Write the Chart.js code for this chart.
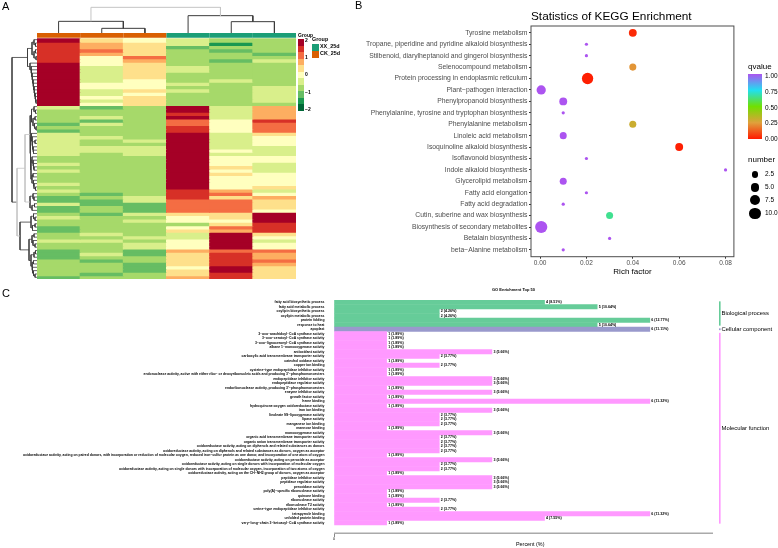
<!DOCTYPE html>
<html>
<head>
<meta charset="utf-8">
<title>Figure</title>
<script src="https://cdn.jsdelivr.net/npm/chart.js@4/dist/chart.umd.min.js"></script>
<style>
  html, body { margin: 0; padding: 0; background: #fff; }
  body { position: relative; width: 778px; height: 548px; overflow: hidden; font-family: "Liberation Sans", Arial, sans-serif; color: #000; }
  canvas, .note, .box { position: absolute; }
  .note { white-space: nowrap; line-height: 1; will-change: transform; }
</style>
</head>
<body>
<script>
// panel A: heatmap z-scores, one array per sample, rows top to bottom
const ck1 = [2,1.6,1.6,1.6,1.6,1.6,1.6,2,2,2,2,2,2,2,2,2,2,2,2,2,
  -0.4,-0.8,-0.8,-0.8,-0.8,-1.2,-0.8,-1.2,-0.4,-0.4,-0.4,-0.4,-0.4,-0.4,-0.4,-0.8,-0.8,-0.4,-0.8,-0.4,
  -0.8,-0.8,-0.8,-0.4,-0.8,-0.4,-0.8,-1.2,-1.2,-0.4,-1.2,-1.2,-0.8,-0.4,-0.8,-0.8,-1.2,-1.2,-0.8,-0.8,
  -0.4,-0.8,-0.8,-1.2,-1.2,-1.2,-0.8,-0.8,-0.8,-0.8,-0.8,-1.2];
const ck2 = [0.4,0.8,0.8,1.2,0.8,0,0,0,-0.4,-0.4,-0.4,-0.4,-0.4,0,0,-0.4,-0.4,0,-0.4,0,
  -1.2,-0.8,-0.8,-0.4,-1.2,-0.4,-0.8,-0.8,-0.8,-0.4,-0.8,-0.8,-0.4,-0.4,-0.8,-0.8,-0.8,-0.8,-0.8,-0.8,
  -0.8,-0.8,-0.8,-0.8,-0.8,-0.8,-1.2,-0.8,-1.2,-1.2,-0.8,-0.8,-1.2,-0.8,-0.8,-0.8,-0.8,-0.8,-0.4,-0.8,
  -0.4,-0.8,-0.8,-0.8,-0.4,-0.8,-1.2,-0.8,-0.8,-0.8,-1.2,-0.8];
const ck3 = [0,0.4,0.4,0.4,0.4,1.2,0.8,0.4,0.4,0.4,0.4,0.4,0,0,0,0.4,0,0.4,0.4,0.4,
  -0.8,-0.8,-0.8,-0.8,-0.8,-0.8,-0.8,-0.8,-0.8,-0.8,-0.4,-0.8,-0.4,-0.4,-0.4,-0.8,-0.8,-0.8,-0.8,-0.8,
  -0.8,-0.8,-0.8,-0.8,-0.8,-0.8,-0.8,-0.4,-0.4,-1.2,-1.2,-1.2,-0.4,-0.8,-0.4,-0.8,-0.8,-0.8,-0.8,-0.4,
  -0.8,-0.4,-0.4,-1.2,-1.2,-0.8,-0.8,-1.2,-1.2,-1.2,-0.8,-0.8];
const xx1 = [-0.4,-0.4,-1.2,-0.8,-0.8,-0.8,-0.8,-0.8,-0.4,-0.4,-0.8,-0.8,-0.8,-0.4,-0.8,-0.4,-0.8,-0.8,-0.8,-0.8,
  2,2,1.6,2,1.2,1.2,1.6,1.6,2,2,2,2,2,2,2,2,2,2,2,2,
  2,2,2,2,2,1.6,1.6,1.6,1.2,1.2,1.2,1.2,0.4,0,0,-0.8,0,0.4,-0.4,-0.4,
  0,0,0,0.8,0.4,0.4,0.4,0.4,0,0.4,0.4,0.8];
const xx2 = [-0.8,-1.6,-0.8,-1.2,-0.8,-0.8,-1.2,-0.8,-0.8,-0.8,-0.8,-0.8,-0.4,-0.8,-0.8,-0.8,-0.8,-0.8,-0.8,-0.8,
  -0.4,-0.4,-0.4,-0.4,0,0,0,0,-0.4,-0.4,-0.4,-0.4,-0.4,0,-0.4,0,0,0,0.4,0,
  0.4,0,0,0,0,0.8,1.2,0.4,1.2,1.2,1.2,1.2,0.4,0.4,0,0.4,1.2,0.8,2,2,
  2,2,2,1.2,1.6,1.6,1.6,1.6,2,2,1.6,1.6];
const xx3 = [-0.8,-0.8,-0.8,-0.8,-1.2,-0.8,-0.4,-0.8,-0.8,-0.8,-0.8,-0.8,-0.8,-0.8,-0.4,-0.4,-0.4,-0.4,-0.4,-0.8,
  0.8,0.8,0.8,0.8,1.6,1.2,1.2,1.2,0.4,0,0,0,-0.4,-0.4,-0.4,0,0,-0.4,-0.4,-0.4,
  0,0,0,0,0.4,-0.4,0,0.8,0.4,0.4,0.4,0,2,2,2,1.6,1.6,1.6,0.4,0,
  -0.4,0,0,1.2,0.8,0.8,1.2,0.8,0.4,0.4,0.4,0.4];
const heatColumns = [ck1, ck2, ck3, xx1, xx2, xx3];
const columnGroups = ['CK_25d', 'CK_25d', 'CK_25d', 'XX_25d', 'XX_25d', 'XX_25d'];
const heatPalette = ['#A50026','#D73027','#F46D43','#FDAE61','#FEE08B','#FFFFBF','#D9EF8B','#A6D96A','#66BD63','#1A9850','#006837'];
const groupColors = {XX_25d: '#1B9E77', CK_25d: '#D95F02'};

// dendrograms: [height, left, right], a bare number is a leaf
const columnTree = [77, [35, 0, [14, 1, 2]], [52, 3, [34, 4, 5]]];
const topRows = [9.5, [5, [3, 0, [1.5, 1, 2]], [3, [1.5, 3, 4], [1, 5, 6]]],
  [7, 7, [6, 8, [5.5, 9, [5, 10, [4.5, 11, [4, 12, [3.5, 13, [3, 14, [2.5, 15, [2, 16, [1.5, 17, [1, 18, 19]]]]]]]]]]]]];
const midRows = [12,
  [7, [5.5, [3, 20, [1.5, 21, 22]], [4, [2, 23, 24], [2.5, 25, [1, 26, 27]]]],
    [6.5, [5.5, 28, [5, 29, [4.5, [2, 30, 31], [4, 32, [3.5, 33, 34]]]]],
      [6, [5, 35, [4, 36, [3.5, 37, [3, 38, 39]]]], [5, [4, 40, 41], [3.5, 42, [3, 43, [1.5, 44, 45]]]]]]],
  [7, [4, 46, [3, 47, 48]], [5, [2.5, 49, 50], 51]]];
const lowRows = [17,
  [6, [3.5, 52, [2, 53, 54]], [4.5, [2, 55, 56], 57]],
  [8, [5, [3, 58, 59], [4, 60, [2, 61, 62]]], [6, [3, [1.5, 63, 64], 65], [5, [3.5, 66, 67], [4.5, 68, [3.5, 69, [2, 70, 71]]]]]]];
const rowTree = [25, topRows, [20, midRows, lowRows]];

// panel B: KEGG enrichment
const pathways = ['Tyrosine metabolism', 'Tropane, piperidine and pyridine alkaloid biosynthesis',
  'Stilbenoid, diarylheptanoid and gingerol biosynthesis', 'Selenocompound metabolism',
  'Protein processing in endoplasmic reticulum', 'Plant\u2212pathogen interaction', 'Phenylpropanoid biosynthesis',
  'Phenylalanine, tyrosine and tryptophan biosynthesis', 'Phenylalanine metabolism', 'Linoleic acid metabolism',
  'Isoquinoline alkaloid biosynthesis', 'Isoflavonoid biosynthesis', 'Indole alkaloid biosynthesis',
  'Glycerolipid metabolism', 'Fatty acid elongation', 'Fatty acid degradation', 'Cutin, suberine and wax biosynthesis',
  'Biosynthesis of secondary metabolites', 'Betalain biosynthesis', 'beta\u2212Alanine metabolism'];
const richFactor = [0.04, 0.02, 0.02, 0.04, 0.0205, 0.0005, 0.01, 0.01, 0.04, 0.01, 0.06, 0.02, 0.08, 0.01, 0.02, 0.01, 0.03, 0.0005, 0.03, 0.01];
const geneNumber = [4, 1, 1, 3, 10, 6, 4, 1, 3, 3, 4, 1, 1, 3, 1, 1, 3, 12, 1, 1];
const qValue = [0.03, 1, 1, 0.23, 0.01, 1, 1, 1, 0.3, 1, 0.01, 1, 1, 1, 1, 1, 0.65, 1, 1, 1];
const numberBreaks = [2.5, 5, 7.5, 10];
const qBreaks = ['1.00', '0.75', '0.50', '0.25', '0.00'];

// panel C: GO enrichment top 50
const goTerms = ['fatty acid biosynthetic process', 'fatty acid metabolic process', 'oxylipin biosynthetic process',
  'oxylipin metabolic process', 'protein folding', 'response to heat', 'apoplast',
  '3\u2212oxo\u2212arachidoyl\u2212CoA synthase activity', '3\u2212oxo\u2212cerotoyl\u2212CoA synthase activity',
  '3\u2212oxo\u2212lignoceronyl\u2212CoA synthase activity', 'alkane 1\u2212monooxygenase activity', 'antioxidant activity',
  'carboxylic acid transmembrane transporter activity', 'catechol oxidase activity', 'copper ion binding',
  'cysteine\u2212type endopeptidase inhibitor activity',
  "endonuclease activity, active with either ribo\u2212 or deoxyribonucleic acids and producing 3'\u2212phosphomonoesters",
  'endopeptidase inhibitor activity', 'endopeptidase regulator activity',
  "endoribonuclease activity, producing 3'\u2212phosphomonoesters", 'enzyme inhibitor activity', 'growth factor activity',
  'heme binding', 'hydroquinone:oxygen oxidoreductase activity', 'iron ion binding', 'linoleate 9S\u2212lipoxygenase activity',
  'lipase activity', 'manganese ion binding', 'mannose binding', 'monooxygenase activity',
  'organic acid transmembrane transporter activity', 'organic anion transmembrane transporter activity',
  'oxidoreductase activity, acting on diphenols and related substances as donors',
  'oxidoreductase activity, acting on diphenols and related substances as donors, oxygen as acceptor',
  'oxidoreductase activity, acting on paired donors, with incorporation or reduction of molecular oxygen, reduced iron\u2212sulfur protein as one donor, and incorporation of one atom of oxygen',
  'oxidoreductase activity, acting on peroxide as acceptor',
  'oxidoreductase activity, acting on single donors with incorporation of molecular oxygen',
  'oxidoreductase activity, acting on single donors with incorporation of molecular oxygen, incorporation of two atoms of oxygen',
  'oxidoreductase activity, acting on the CH\u2212NH2 group of donors, oxygen as acceptor', 'peptidase inhibitor activity',
  'peptidase regulator activity', 'peroxidase activity', 'poly(A)\u2212specific ribonuclease activity', 'quinone binding',
  'ribonuclease activity', 'ribonuclease T2 activity', 'serine\u2212type endopeptidase inhibitor activity',
  'tetrapyrrole binding', 'unfolded protein binding', 'very\u2212long\u2212chain 3\u2212ketoacyl\u2212CoA synthase activity'];
const goCounts = [4, 5, 2, 2, 6, 5, 6, 1, 1, 1, 1, 3, 2, 1, 2, 1, 1, 3, 3, 1, 3, 1, 6, 1, 3, 2, 2, 2, 1, 3, 2, 2, 2, 2, 1, 3, 2, 2, 1, 3, 3, 3, 1, 1, 2, 1, 2, 6, 4, 1];
const goPercents = ['8.51', '10.64', '4.26', '4.26', '12.77', '10.64', '11.11', '1.89', '1.89', '1.89', '1.89', '5.66', '3.77', '1.89', '3.77', '1.89', '1.89', '5.66', '5.66', '1.89', '5.66', '1.89', '11.32', '1.89', '5.66', '3.77', '3.77', '3.77', '1.89', '5.66', '3.77', '3.77', '3.77', '3.77', '1.89', '5.66', '3.77', '3.77', '1.89', '5.66', '5.66', '5.66', '1.89', '1.89', '3.77', '1.89', '3.77', '11.32', '7.55', '1.89'];
const goClasses = [
  {name: 'Biological process', first: 0, last: 5, color: '#66CC99'},
  {name: 'Cellular component', first: 6, last: 6, color: '#9999CC'},
  {name: 'Molecular function', first: 7, last: 49, color: '#FF99FF'}
];

Chart.defaults.font.family = '"Liberation Sans", Arial, sans-serif';
Chart.defaults.animation = false;
Chart.defaults.responsive = false;
Chart.defaults.plugins.legend.display = false;
Chart.defaults.plugins.tooltip.enabled = false;

function addCanvas(x, y, w, h) {
  const canvas = document.createElement('canvas');
  canvas.width = w;
  canvas.height = h;
  canvas.style.left = x + 'px';
  canvas.style.top = y + 'px';
  canvas.style.width = w + 'px';
  canvas.style.height = h + 'px';
  document.body.appendChild(canvas);
  return canvas;
}

function note(text, x, y, size, extra) {
  const el = document.createElement('div');
  el.className = 'note';
  el.textContent = text;
  el.style.left = x + 'px';
  el.style.top = (y - size / 2) + 'px';
  el.style.fontSize = size + 'px';
  Object.assign(el.style, extra || {});
  document.body.appendChild(el);
  return el;
}

function box(x, y, w, h, background, radius) {
  const el = document.createElement('div');
  el.className = 'box';
  el.style.cssText = `left:${x}px;top:${y}px;width:${w}px;height:${h}px;background:${background};` +
    (radius ? 'border-radius:50%;' : '');
  document.body.appendChild(el);
}

// walks a dendrogram and collects its elbows, a null point breaks the line
function treeLines(node, toPoint, greyHeights, out) {
  if (typeof node === 'number') return {pos: node + 0.5, h: 0};
  const [h, left, right] = node;
  const a = treeLines(left, toPoint, greyHeights, out);
  const b = treeLines(right, toPoint, greyHeights, out);
  const line = greyHeights.includes(h) ? out.grey : out.dark;
  line.push(toPoint(a.pos, a.h), toPoint(a.pos, h), toPoint(b.pos, h), toPoint(b.pos, b.h), {x: null, y: null});
  return {pos: (a.pos + b.pos) / 2, h};
}

function drawTree(canvas, tree, toPoint, greyHeights, lineWidth, xScale, yScale) {
  const out = {dark: [], grey: []};
  treeLines(tree, toPoint, greyHeights, out);
  const lineStyle = {showLine: true, pointRadius: 0, borderWidth: lineWidth, spanGaps: false, clip: false};
  new Chart(canvas, {
    type: 'scatter',
    data: {datasets: [
      {data: out.grey, borderColor: '#c4c4c4', ...lineStyle},
      {data: out.dark, borderColor: '#3c3c3c', ...lineStyle}
    ]},
    options: {scales: {x: {display: false, ...xScale}, y: {display: false, ...yScale}}}
  });
}

function heatColor(z) {
  return heatPalette[Math.round((2 - z) / 0.4)];
}

function initHeatmap() {
  const canvas = addCanvas(37, 33, 259, 246);
  const unit = heatColumns.map(() => 1);
  const datasets = [
    {data: heatColumns.map(() => 1.4), backgroundColor: columnGroups.map(g => groupColors[g]), inflateAmount: 0},
    {data: heatColumns.map(() => 0.35), backgroundColor: 'rgba(0,0,0,0)', inflateAmount: 0}
  ];
  ck1.forEach((_, row) => {
    datasets.push({data: unit, backgroundColor: heatColumns.map(col => heatColor(col[row])), inflateAmount: 0.5});
  });
  new Chart(canvas, {
    type: 'bar',
    data: {labels: columnGroups, datasets},
    options: {
      datasets: {bar: {categoryPercentage: 1, barPercentage: 1, borderWidth: 0}},
      scales: {
        x: {display: false, stacked: true},
        y: {display: false, stacked: true, reverse: true, min: 0, max: ck1.length + 1.75}
      }
    }
  });

  drawTree(addCanvas(37, 5, 259, 28), columnTree, (pos, h) => ({x: pos, y: h}), [77], 1,
    {type: 'linear', min: 0, max: 6}, {type: 'linear', min: 0, max: 84});
  drawTree(addCanvas(3, 38, 34, 241), rowTree, (pos, h) => ({x: h, y: pos}), [20, 12], 0.8,
    {type: 'linear', min: 0, max: 34, reverse: true}, {type: 'linear', min: 0, max: 72, reverse: true});

  // colour key and annotation key
  note('Group', 298, 35, 5, {fontWeight: 'bold'});
  const stops = heatPalette.map((c, i) => `${c} ${i * 100 / 11}% ${(i + 1) * 100 / 11}%`);
  box(298, 38.5, 5.5, 72, `linear-gradient(${stops.join(',')})`);
  ['2', '1', '0', '\u22121', '\u22122'].forEach((t, i) => note(t, 305, [40.5, 57, 74.5, 92, 109.5][i], 5, {fontWeight: 'bold'}));
  note('Group', 312, 40, 5.4, {fontWeight: 'bold'});
  box(312, 44, 7, 6.7, groupColors.XX_25d);
  box(312, 51.2, 7, 6.7, groupColors.CK_25d);
  note('XX_25d', 320, 47, 5.4, {fontWeight: 'bold'});
  note('CK_25d', 320, 54, 5.4, {fontWeight: 'bold'});
}

const qStops = [[0, [255, 26, 0]], [0.25, [224, 160, 60]], [0.5, [112, 224, 0]], [0.75, [32, 224, 240]], [1, [172, 84, 240]]];

function qColor(q) {
  let i = 0;
  while (i < qStops.length - 2 && q > qStops[i + 1][0]) i++;
  const [q0, c0] = qStops[i];
  const [q1, c1] = qStops[i + 1];
  const t = (q - q0) / (q1 - q0);
  return `rgb(${c0.map((v, k) => Math.round(v + (c1[k] - v) * t)).join(',')})`;
}

function bubbleRadius(n) {
  return 1.6 + 4.5 * Math.sqrt((n - 1) / 11);
}

const panelBorder = {
  id: 'panelBorder',
  afterDraw(chart) {
    const {ctx, chartArea: a} = chart;
    ctx.save();
    ctx.strokeStyle = '#4d4d4d';
    ctx.lineWidth = 1;
    ctx.strokeRect(a.left, a.top, a.right - a.left, a.bottom - a.top);
    ctx.restore();
  }
};

function initBubbles() {
  const canvas = addCanvas(340, 0, 400, 279);
  const axisTicks = {color: '#4d4d4d', autoSkip: false, includeBounds: false, maxRotation: 0};
  const axisGrid = {drawOnChartArea: false, tickLength: 2, color: '#333'};
  new Chart(canvas, {
    type: 'bubble',
    data: {datasets: [{
      data: pathways.map((_, i) => ({x: richFactor[i], y: i, r: bubbleRadius(geneNumber[i])})),
      backgroundColor: qValue.map(qColor),
      borderWidth: 0
    }]},
    options: {
      layout: {padding: {top: 26, right: 5, left: 0, bottom: 0}},
      scales: {
        x: {
          type: 'linear', min: -0.0039, max: 0.0836,
          grid: axisGrid, border: {display: false},
          ticks: {...axisTicks, stepSize: 0.02, padding: 0.5, font: {size: 6.5}, callback: v => v.toFixed(2)},
          title: {display: true, text: 'Rich factor', color: '#000', font: {size: 8}, padding: 2},
          afterFit: s => { s.height = 22.3; }
        },
        y: {
          type: 'linear', reverse: true, min: -0.6, max: pathways.length - 0.4,
          grid: axisGrid, border: {display: false},
          ticks: {...axisTicks, stepSize: 1, padding: 1.5, font: {size: 6.8}, callback: v => pathways[v]},
          afterFit: s => { s.width = 191; }
        }
      }
    },
    plugins: [panelBorder]
  });

  note('Statistics of KEGG Enrichment', 531, 17, 11.8);
  note('qvalue', 748, 67, 8);
  const gradient = [1, 0.75, 0.5, 0.25, 0].map(q => qColor(q)).join(',');
  box(748, 74, 14, 65, `linear-gradient(${gradient})`);
  qBreaks.forEach((t, i) => note(t, 765, [76, 92, 108, 123, 139][i], 6.5));
  note('number', 748, 160, 8);
  numberBreaks.forEach((n, i) => {
    const r = bubbleRadius(n);
    const cy = 174.3 + i * 13;
    box(755 - r, cy - r, r * 2, r * 2, '#000', true);
    note(n.toFixed(1), 765, cy, 6.5);
  });
}

// percent axis line, value labels and class brackets for the GO bars
const goDecorations = {
  id: 'goDecorations',
  afterDatasetsDraw(chart) {
    const {ctx, chartArea, scales: {x, y}} = chart;
    ctx.save();
    ctx.fillStyle = '#aaaaaa';
    ctx.fillRect(x.left, chartArea.bottom - 1.5, x.right - x.left, 1.5);
    ctx.fillStyle = '#000';
    ctx.textBaseline = 'middle';
    ctx.font = 'bold 3.6px "Liberation Sans", Arial, sans-serif';
    goCounts.forEach((count, i) => {
      ctx.fillText(`${count} (${goPercents[i]}%)`, x.getPixelForValue(count) + 1.5, y.getPixelForValue(i));
    });
    const sideX = chartArea.right + 6;
    ctx.font = '5.9px "Liberation Sans", Arial, sans-serif';
    goClasses.forEach(cls => {
      const top = y.getPixelForValue(cls.first) - 0.9;
      const bottom = y.getPixelForValue(cls.last) + 0.9;
      ctx.fillStyle = cls.color;
      ctx.fillRect(sideX, top, 1.6, bottom - top);
      ctx.fillStyle = '#000';
      ctx.fillText(cls.name, sideX + 2.5, (top + bottom) / 2);
    });
    ctx.restore();
  }
};

function initGoBars() {
  const canvas = addCanvas(0, 295, 778, 253);
  const barColors = goTerms.map((_, i) => goClasses.find(c => i >= c.first && i <= c.last).color);
  new Chart(canvas, {
    type: 'bar',
    data: {
      // two empty rows leave the gap above the percent axis
      labels: goTerms.concat(['', '']),
      datasets: [{data: goCounts, backgroundColor: barColors, borderWidth: 0, categoryPercentage: 1, barPercentage: 1, inflateAmount: 0.3}]
    },
    options: {
      indexAxis: 'y',
      layout: {padding: {top: 5, right: 65, left: 0, bottom: 0}},
      scales: {
        x: {
          min: 0, max: 7.2,
          grid: {drawOnChartArea: false, tickLength: 3, color: '#888'},
          border: {display: false},
          ticks: {stepSize: 10, includeBounds: false, padding: 0, color: '#000', font: {size: 3.6}},
          afterFit: s => { s.height = 14; }
        },
        y: {
          grid: {display: false}, border: {display: false},
          ticks: {autoSkip: false, padding: 1.5, color: '#000', font: {size: 3.42, weight: 'bold'}, maxRotation: 0},
          afterFit: s => { s.width = 334; }
        }
      }
    },
    plugins: [goDecorations]
  });
  note('GO Enrichment Top 50', 491.5, 290, 4, {fontWeight: 'bold'});
  note('Percent (%)', 516, 545, 5.4);
}

initHeatmap();
initBubbles();
initGoBars();

note('A', 2, 6, 11);
note('B', 355, 5, 11);
note('C', 2, 293, 11);
</script>
</body>
</html>
